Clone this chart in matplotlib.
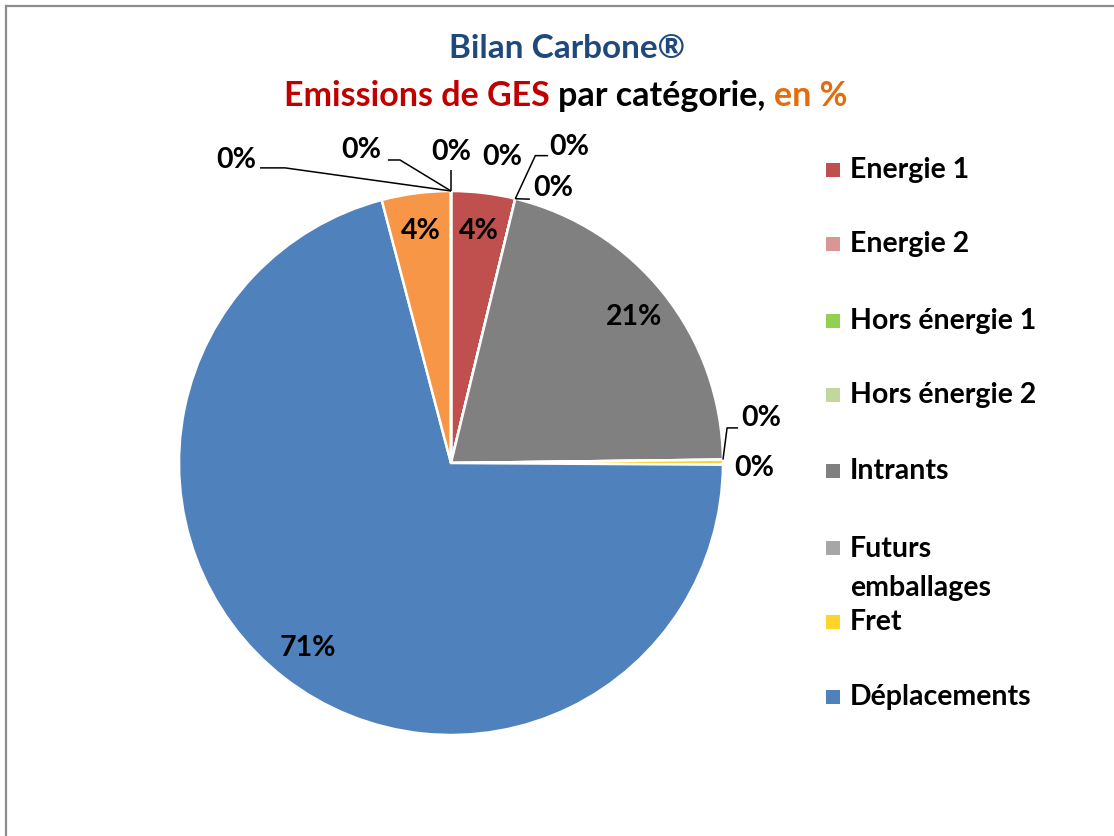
import matplotlib
matplotlib.use("Agg")
import matplotlib.pyplot as plt
import numpy as np
from matplotlib.patches import Rectangle
from matplotlib.lines import Line2D
from matplotlib.offsetbox import TextArea, HPacker, AnchoredOffsetbox

plt.rcParams["font.family"] = ["Lato", "DejaVu Sans"]

# categories (only the first 8 appear in the legend of the original)
categories = ["Energie 1", "Energie 2", "Hors énergie 1", "Hors énergie 2",
              "Intrants", "Futurs\nemballages", "Fret", "Déplacements",
              "Déchets directs", "Immobilisations", "Utilisation", "Fin de vie"]
shares = [3.8, 0.0, 0.0, 0.0, 21.0, 0.0, 0.3, 70.8, 4.1, 0.0, 0.0, 0.0]
colors = ["#C0504D", "#D99694", "#92D050", "#C3D69B", "#808080", "#A6A6A6",
          "#FFD52B", "#4F81BD", "#F79646", "#8EB4E3", "#B3A2C7", "#93CDDD"]
n_legend = 8

W, H = 1114, 836
fig = plt.figure(figsize=(W / 100, H / 100), dpi=100)

# pie axes: centre (451, 463) px, radius 272 px
cx, cy, r = 451, 463, 272
ax = fig.add_axes([(cx - r) / W, (H - cy - r) / H, 2 * r / W, 2 * r / H])
wedges, _ = ax.pie(shares, colors=colors, startangle=90, counterclock=False,
                   radius=1, frame=False,
                   wedgeprops=dict(edgecolor="white", linewidth=1.8))
ax.set_xlim(-1, 1)
ax.set_ylim(-1, 1)
ax.set_aspect("equal")
ax.axis("off")

LBL = dict(fontsize=20.5, fontweight="bold", color="black", ha="center",
           va="center")

# label placement for the tiny slices: (text pos, leader path) in radius units
small = {
    1: ((0.19, 1.125), []),
    2: ((0.435, 1.16), [(0.31, 1.13), (0.357, 1.13)]),
    3: ((0.375, 1.01), [(0.29, 0.97)]),
    5: ((1.14, 0.165), [(1.015, 0.129), (1.055, 0.129)]),
    6: ((1.115, -0.02), []),
    9: ((0.0, 1.143), [(0.0, 1.077)]),
    10: ((-0.33, 1.15), [(-0.1875, 1.114), (-0.232, 1.114)]),
    11: ((-0.79, 1.114), [(-0.61, 1.085), (-0.702, 1.085)]),
}

for i, (w, v) in enumerate(zip(wedges, shares)):
    txt = f"{round(v)}%"
    mid = np.deg2rad((w.theta1 + w.theta2) / 2)
    if i in small:
        pos, path = small[i]
        if path:
            a = np.deg2rad(w.theta2 if i < 8 else w.theta1)
            pts = [(np.cos(a), np.sin(a))] + path
            ax.plot([p[0] for p in pts], [p[1] for p in pts], color="black",
                    lw=1.1, clip_on=False, solid_capstyle="butt")
        ax.text(pos[0], pos[1], txt, **LBL)
    else:
        ax.text(0.86 * np.cos(mid), 0.86 * np.sin(mid), txt, **LBL)

# legend drawn by hand (Excel keeps the swatch on the first text line)
leg_y = [170, 244, 321, 395, 471, 548, 622, 697]
for name, col, y in zip(categories[:n_legend], colors[:n_legend], leg_y):
    fig.add_artist(Rectangle((826 / W, 1 - (y + 7) / H), 14 / W, 14 / H,
                             facecolor=col, edgecolor="none",
                             transform=fig.transFigure))
    if "\n" in name:
        fig.text(850 / W, 1 - (y - 12) / H, name, fontsize=20.5,
                 fontweight="bold", ha="left", va="top", linespacing=1.6)
    else:
        fig.text(850 / W, 1 - y / H, name, fontsize=20.5, fontweight="bold",
                 ha="left", va="center")

# titles
fig.text(567 / W, 1 - 49 / H, "Bilan Carbone®", fontsize=24, fontweight="bold",
         color="#1F497D", ha="center", va="center")
parts = [("Emissions de GES ", "#C00000"), ("par catégorie, ", "black"),
         ("en %", "#E46C0A")]
box = HPacker(children=[TextArea(t, textprops=dict(fontsize=24.5,
                                                   fontweight="bold", color=c))
                        for t, c in parts], sep=0, pad=0, align="baseline")
fig.add_artist(AnchoredOffsetbox(loc="center", child=box, frameon=False,
                                 pad=0, borderpad=0,
                                 bbox_to_anchor=(566 / W, 1 - 96 / H),
                                 bbox_transform=fig.transFigure))

# chart frame (only left and top edges are within the picture)
fig.add_artist(Line2D([6 / W, 6 / W], [0, 1 - 6 / H], color="#8C8C8C", lw=1.6,
                      transform=fig.transFigure))
fig.add_artist(Line2D([6 / W, 1], [1 - 6 / H, 1 - 6 / H], color="#8C8C8C",
                      lw=1.6, transform=fig.transFigure))

fig.savefig("out.png", dpi=100, facecolor="white")
